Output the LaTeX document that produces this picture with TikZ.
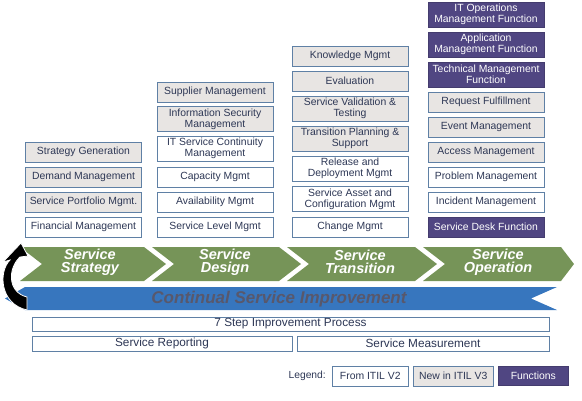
\documentclass[tikz,border=0pt]{standalone}
\usepackage{fontspec}
\setmainfont{Liberation Sans}
\definecolor{boxline}{RGB}{95,128,165}
\definecolor{boxgray}{RGB}{232,229,227}
\definecolor{funcpurple}{RGB}{80,70,130}
\definecolor{boxtext}{RGB}{45,55,85}
\definecolor{chevgreen}{RGB}{118,148,88}
\definecolor{csiblue}{RGB}{55,118,190}
\definecolor{csitext}{RGB}{88,88,108}
\tikzset{
  proc/.style={draw=boxline,line width=0.9pt,inner sep=0pt,align=center,
    minimum width=116pt,minimum height=20pt,text=boxtext,
    font=\fontsize{10.4}{11}\selectfont},
  v2/.style={proc,fill=white},
  v3/.style={proc,fill=boxgray},
  func/.style={proc,fill=funcpurple,draw=funcpurple!85!black,text=white},
  tall/.style={minimum height=25pt},
  stage/.style={text=white,align=center,
    font=\fontsize{14.5}{13.5}\selectfont\bfseries\itshape},
  base/.style={draw=boxline,line width=0.9pt,fill=white,inner sep=0pt,
    text=boxtext,font=\fontsize{11.8}{12}\selectfont}
}
\begin{document}
\begin{tikzpicture}[x=1pt,y=-1pt]
  \useasboundingbox (0,0) rectangle (582,400);
  % strategy
  \node[v3] (sgen) at (83.5,152) {Strategy Generation};
  \node[v3] (demand) at (83.5,177) {Demand Management};
  \node[v3] (portfolio) at (83.5,202) {Service Portfolio Mgmt.};
  \node[v2] (financial) at (83.5,227) {Financial Management};
  % design
  \node[v3] (supplier) at (215,92) {Supplier Management};
  \node[v3,tall] (infosec) at (215,119) {Information Security\\Management};
  \node[v2,tall] (itscm) at (215,148.5) {IT Service Continuity\\Management};
  \node[v2] (capacity) at (215,177) {Capacity Mgmt};
  \node[v2] (avail) at (215,202) {Availability Mgmt};
  \node[v2] (slm) at (215,227) {Service Level Mgmt};
  % transition
  \node[v3] (knowledge) at (350,56) {Knowledge Mgmt};
  \node[v3] (eval) at (350,81) {Evaluation};
  \node[v3,tall] (svt) at (350,108.5) {Service Validation \&\\Testing};
  \node[v3,tall] (tps) at (350,138.5) {Transition Planning \&\\Support};
  \node[v2,tall] (release) at (350,168.5) {Release and\\Deployment Mgmt};
  \node[v2,tall] (sacm) at (350,199) {Service Asset and\\Configuration Mgmt};
  \node[v2] (change) at (350,227) {Change Mgmt};
  % operation
  \node[func,tall] (itops) at (486,14.5) {IT Operations\\Management Function};
  \node[func,tall] (appmgmt) at (486,44.5) {Application\\Management Function};
  \node[func,tall] (techmgmt) at (486,74.5) {Technical Management\\Function};
  \node[v3] (request) at (486,102) {Request Fulfillment};
  \node[v3] (event) at (486,127) {Event Management};
  \node[v3] (access) at (486,152) {Access Management};
  \node[v2] (problem) at (486,177) {Problem Management};
  \node[v2] (incident) at (486,202) {Incident Management};
  \node[func] (desk) at (486,227) {Service Desk Function};
  % lifecycle
  \fill[chevgreen] (20,247) -- (144,247) -- (166,264) -- (144,281) -- (20,281) -- (42,264) -- cycle;
  \fill[chevgreen] (152,247) -- (279,247) -- (301,264) -- (279,281) -- (152,281) -- (174,264) -- cycle;
  \fill[chevgreen] (287,247) -- (415,247) -- (437,264) -- (415,281) -- (287,281) -- (309,264) -- cycle;
  \fill[chevgreen] (423,247) -- (561,247) -- (574,264) -- (561,281) -- (423,281) -- (445,264) -- cycle;
  \node[stage] (sstrategy) at (90,262) {Service\\Strategy};
  \node[stage] (sdesign) at (225,262) {Service\\Design};
  \node[stage] (stransition) at (360,262) {Service\\Transition};
  \node[stage] (soperation) at (498,262) {Service\\Operation};
  \fill[csiblue] (5,298.5) -- (25,287) -- (557,287) -- (531,298.5) -- (557,310) -- (25,310) -- cycle;
  \node[text=csitext,font=\fontsize{17}{17}\selectfont\bfseries\itshape] (csi) at (279,299) {Continual Service Improvement};
  \filldraw[fill=black,draw=white,line width=0.8pt] (27,310) .. controls (0,304) and (-2,272) .. (10,260)
    -- (3,262) -- (21,243) -- (28,256) -- (20,257) .. controls (8,268) and (7,292) .. (27,297) -- cycle;
  % improvement
  \node[base,minimum width=517pt,minimum height=14pt] (sevenstep) at (290.5,324) {7 Step Improvement Process};
  \node[base,minimum width=260pt,minimum height=15pt] (reporting) at (162,343.5) {Service Reporting};
  \node[base,minimum width=252pt,minimum height=15pt] (measurement) at (423,343.5) {Service Measurement};
  % legend
  \node[anchor=east,text=boxtext,inner sep=0pt,font=\fontsize{10.3}{11}\selectfont] (legend) at (326,376) {Legend:};
  \node[v2,minimum width=76pt] (legv2) at (370.3,376) {From ITIL V2};
  \node[v3,minimum width=80pt] (legv3) at (453.3,376) {New in ITIL V3};
  \node[func,minimum width=70pt,minimum height=19pt] (legfunc) at (533.3,375.5) {Functions};
\end{tikzpicture}
\end{document}
